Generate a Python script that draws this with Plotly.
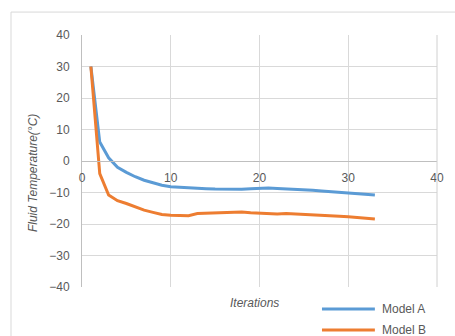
import plotly.graph_objects as go

iterations = list(range(1, 34))
model_a = [30, 6, 1, -2, -3.6, -5, -6.1, -7, -7.7, -8.2, -8.4, -8.6, -8.7, -8.8, -8.9, -9.0, -9.1, -9.0,
           -8.8, -8.6, -8.6, -8.7, -8.8, -8.9, -9.1, -9.3, -9.5, -9.7, -9.9, -10.1, -10.3, -10.6, -10.8]
model_b = [30, -4, -10.8, -12.6, -13.5, -14.5, -15.6, -16.3, -17.0, -17.2, -17.3, -17.4, -16.7, -16.6, -16.5,
           -16.5, -16.5, -16.2, -16.4, -16.6, -16.7, -16.8, -16.7, -16.8, -17.0, -17.2, -17.3, -17.4, -17.5,
           -17.7, -17.9, -18.1, -18.4]
series_names = ["Model A", "Model B"]
series_colors = ["#5B9BD5", "#ED7D31"]
x_ticks = [0, 10, 20, 30, 40]
y_ticks = [-40, -30, -20, -10, 0, 10, 20, 30, 40]

FONT = "Liberation Sans"
TXT = "#595959"

fig = go.Figure()
for name, vals, col in zip(series_names, [model_a, model_b], series_colors):
    fig.add_trace(go.Scatter(x=iterations, y=vals, mode="lines", name=name,
                             line=dict(color=col, width=3), showlegend=False))

fig.update_layout(
    width=455, height=336,
    margin=dict(l=82, r=18, t=35, b=49),
    paper_bgcolor="white", plot_bgcolor="white",
    font=dict(family=FONT, size=12, color=TXT),
    xaxis=dict(range=[0, 40], tickvals=x_ticks, showgrid=True, gridcolor="#d9d9d9", gridwidth=1,
               showline=True, linecolor="#bfbfbf", linewidth=1, zeroline=False,
               anchor="free", position=0.5, ticks="", ticklabelstandoff=6,
               tickfont=dict(family=FONT, size=12, color=TXT)),
    yaxis=dict(range=[-40, 40], tickvals=y_ticks, showgrid=True, gridcolor="#d9d9d9", gridwidth=1,
               showline=True, linecolor="#bfbfbf", linewidth=1, zeroline=False,
               ticks="", ticklabelstandoff=9,
               tickfont=dict(family=FONT, size=12, color=TXT)),
)

# right border of plot area
fig.add_shape(type="line", xref="paper", yref="paper", x0=1, x1=1, y0=0, y1=1,
              line=dict(color="#d0d0d0", width=1))
# chart area border
fig.add_shape(type="rect", xref="paper", yref="paper", x0=-0.2, x1=1.07, y0=-0.22, y1=1.091,
              line=dict(color="#d9d9d9", width=1), fillcolor="rgba(0,0,0,0)", layer="above")

fig.add_annotation(text="Fluid Temperature(°C)", xref="paper", yref="paper", x=-0.138, y=0.452,
                   textangle=-90, showarrow=False, xanchor="center", yanchor="middle",
                   font=dict(family=FONT, size=12, color=TXT, style="italic"))
fig.add_annotation(text="Iterations", xref="paper", yref="paper", x=0.486, y=-0.0635,
                   showarrow=False, xanchor="center", yanchor="middle",
                   font=dict(family=FONT, size=12, color=TXT, style="italic"))

# legend (manual)
leg_y = [-0.0873, -0.1706]
for name, col, ly in zip(series_names, series_colors, leg_y):
    fig.add_shape(type="line", xref="paper", yref="paper", x0=0.676, x1=0.825, y0=ly, y1=ly,
                  line=dict(color=col, width=3))
    fig.add_annotation(text=name, xref="paper", yref="paper", x=0.839, y=ly, showarrow=False,
                       xanchor="left", yanchor="middle", font=dict(family=FONT, size=12, color=TXT))

fig.write_html("out.html", config={"displayModeBar": False},
               post_script="document.body.style.margin='0';document.body.style.overflow='hidden';")
